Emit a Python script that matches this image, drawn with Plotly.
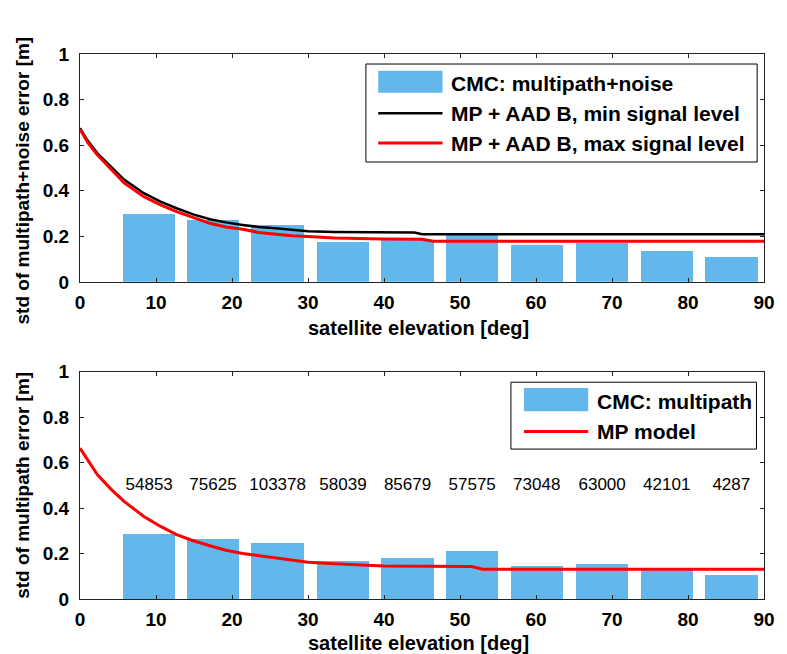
import plotly.graph_objects as go

# ---------------- data ----------------
bar_elev = [9.1, 17.5, 26.0, 34.6, 43.1, 51.6, 60.1, 68.7, 77.2, 85.7]
cmc_mp_noise = [0.30, 0.27, 0.25, 0.174, 0.185, 0.21, 0.16, 0.17, 0.137, 0.108]
cmc_mp = [0.29, 0.265, 0.249, 0.17, 0.183, 0.212, 0.148, 0.155, 0.133, 0.107]
counts = [54853, 75625, 103378, 58039, 85679, 57575, 73048, 63000, 42101, 4287]

min_elev = [0, 1, 2.3, 4.1, 5.8, 8.4, 10.6, 12.7, 14.9, 17.1, 19.2, 21.4, 23.5,
            25.7, 27.9, 30, 33.5, 40, 44, 45, 90]
min_level = [0.674, 0.62, 0.564, 0.506, 0.449, 0.389, 0.352, 0.323, 0.296, 0.275,
             0.261, 0.25, 0.241, 0.235, 0.228, 0.222, 0.219, 0.217, 0.217, 0.209, 0.209]

max_elev = [0, 1, 2.3, 4.1, 5.8, 8.4, 10.6, 12.7, 14.9, 17.1, 19.2, 21.4, 23.5,
            25.7, 27.9, 30, 33.5, 40, 45, 46.5, 90]
max_level = [0.67, 0.612, 0.557, 0.494, 0.435, 0.374, 0.338, 0.308, 0.281, 0.257,
             0.241, 0.231, 0.217, 0.209, 0.202, 0.199, 0.192, 0.188, 0.187, 0.178, 0.178]

mp_elev = [0, 1, 2.3, 4.1, 5.8, 8.4, 10.6, 12.7, 14.9, 17.1, 19.2, 21.4, 23.5,
           25.7, 27.9, 30, 33.5, 40, 51.5, 53, 90]
mp_model = [0.663, 0.61, 0.546, 0.482, 0.429, 0.363, 0.319, 0.283, 0.256, 0.234,
            0.214, 0.2, 0.19, 0.18, 0.17, 0.162, 0.155, 0.145, 0.143, 0.131, 0.131]

x_ticks = [0, 10, 20, 30, 40, 50, 60, 70, 80, 90]
y_ticks = [0, 0.2, 0.4, 0.6, 0.8, 1]

# ---------------- style ----------------
BAR = "rgb(99,184,235)"
FONT = "Liberation Sans, Arial, sans-serif"
BAR_W = 6.9

fig = go.Figure()
fig.add_trace(go.Bar(x=bar_elev, y=cmc_mp_noise, width=BAR_W, marker=dict(color=BAR, line=dict(width=0)),
                     xaxis="x", yaxis="y", showlegend=False))
fig.add_trace(go.Scatter(x=min_elev, y=min_level, mode="lines",
                         line=dict(color="black", width=2.5),
                         xaxis="x", yaxis="y", showlegend=False))
fig.add_trace(go.Scatter(x=max_elev, y=max_level, mode="lines",
                         line=dict(color="red", width=3),
                         xaxis="x", yaxis="y", showlegend=False))
fig.add_trace(go.Bar(x=bar_elev, y=cmc_mp, width=BAR_W, marker=dict(color=BAR, line=dict(width=0)),
                     xaxis="x2", yaxis="y2", showlegend=False))
fig.add_trace(go.Scatter(x=mp_elev, y=mp_model, mode="lines",
                         line=dict(color="red", width=3),
                         xaxis="x2", yaxis="y2", showlegend=False))
fig.add_trace(go.Scatter(x=bar_elev, y=[0.5] * len(bar_elev), mode="text",
                         text=[str(c) for c in counts],
                         textfont=dict(family=FONT, size=17, color="black"),
                         textposition="middle center", xaxis="x2", yaxis="y2", showlegend=False))

axis_common = dict(showline=True, linecolor="#222", linewidth=1, mirror="ticks",
                   ticks="inside", ticklen=4, tickcolor="#222", showgrid=False, zeroline=False,
                   tickfont=dict(family=FONT, size=19, color="black", weight="bold"))

fig.update_layout(
    width=787, height=654,
    margin=dict(l=80, r=14, t=54, b=55),
    plot_bgcolor="white", paper_bgcolor="white",
    bargap=0,
    xaxis=dict(domain=[0, 1], anchor="y", range=[0, 90], tickvals=x_ticks, ticklabelstandoff=3, **axis_common),
    yaxis=dict(domain=[0.5819, 1], anchor="x", range=[0, 1], tickvals=y_ticks, ticklabelstandoff=6, **axis_common),
    xaxis2=dict(domain=[0, 1], anchor="y2", range=[0, 90], tickvals=x_ticks, ticklabelstandoff=3, **axis_common),
    yaxis2=dict(domain=[0, 0.4174], anchor="x2", range=[0, 1], tickvals=y_ticks, ticklabelstandoff=6, **axis_common),
)

title_font = dict(family=FONT, size=20, color="black", weight="bold")
ytitle_font = dict(family=FONT, size=19, color="black", weight="bold")
ann = []
# axis titles
ann.append(dict(text="satellite elevation [deg]", xref="x domain", yref="y domain", x=0.495, y=-0.202,
                xanchor="center", yanchor="middle", showarrow=False, font=title_font))
ann.append(dict(text="satellite elevation [deg]", xref="x2 domain", yref="y2 domain", x=0.495, y=-0.192,
                xanchor="center", yanchor="middle", showarrow=False, font=title_font))
ann.append(dict(text="std of multipath+noise error [m]", xref="x domain", yref="y domain", x=-0.084, y=0.443,
                xanchor="center", yanchor="middle", textangle=-90, showarrow=False, font=ytitle_font))
ann.append(dict(text="std of multipath error [m]", xref="x2 domain", yref="y2 domain", x=-0.084, y=0.5,
                xanchor="center", yanchor="middle", textangle=-90, showarrow=False, font=ytitle_font))

# manual legends
leg_font = dict(family=FONT, size=21, color="black", weight="bold")
shapes = []
# top legend
shapes.append(dict(type="rect", xref="x domain", yref="y domain", x0=0.418, x1=0.99, y0=0.526, y1=0.956,
                   line=dict(color="black", width=1), fillcolor="white", layer="above"))
shapes.append(dict(type="rect", xref="x domain", yref="y domain", x0=0.436, x1=0.530, y0=0.830, y1=0.927,
                   line=dict(width=0), fillcolor=BAR, layer="above"))
shapes.append(dict(type="line", xref="x domain", yref="y domain", x0=0.436, x1=0.530, y0=0.740, y1=0.740,
                   line=dict(color="black", width=2.5), layer="above"))
shapes.append(dict(type="line", xref="x domain", yref="y domain", x0=0.436, x1=0.530, y0=0.609, y1=0.609,
                   line=dict(color="red", width=3), layer="above"))
for txt, yy in [("CMC: multipath+noise", 0.871), ("MP + AAD B, min signal level", 0.740),
                ("MP + AAD B, max signal level", 0.609)]:
    ann.append(dict(text=txt, xref="x domain", yref="y domain", x=0.540, y=yy, xanchor="left",
                    yanchor="middle", showarrow=False, font=leg_font))
# bottom legend
shapes.append(dict(type="rect", xref="x2 domain", yref="y2 domain", x0=0.630, x1=0.989, y0=0.659, y1=0.953,
                   line=dict(color="black", width=1), fillcolor="white", layer="above"))
shapes.append(dict(type="rect", xref="x2 domain", yref="y2 domain", x0=0.649, x1=0.743, y0=0.825, y1=0.928,
                   line=dict(width=0), fillcolor=BAR, layer="above"))
shapes.append(dict(type="line", xref="x2 domain", yref="y2 domain", x0=0.649, x1=0.743, y0=0.736, y1=0.736,
                   line=dict(color="red", width=3), layer="above"))
for txt, yy in [("CMC: multipath", 0.867), ("MP model", 0.736)]:
    ann.append(dict(text=txt, xref="x2 domain", yref="y2 domain", x=0.753, y=yy, xanchor="left",
                    yanchor="middle", showarrow=False, font=leg_font))

fig.update_layout(annotations=ann, shapes=shapes)
fig.write_html("out.html")
